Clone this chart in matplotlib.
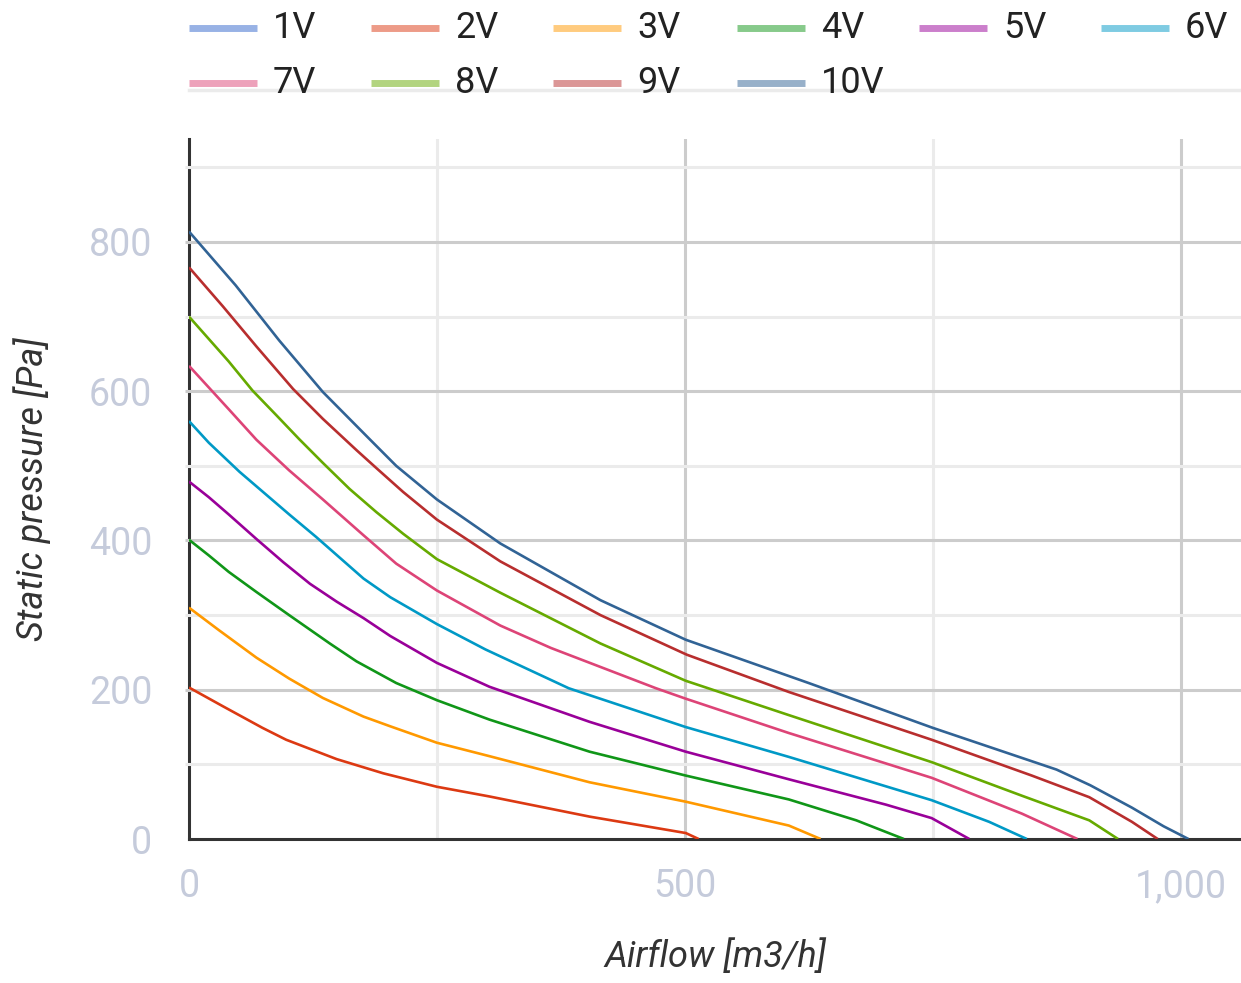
import numpy as np
import matplotlib
matplotlib.use('Agg')
import matplotlib.pyplot as plt
from matplotlib.lines import Line2D
from matplotlib.ticker import FuncFormatter

plt.rcParams['font.family'] = ['Roboto', 'DejaVu Sans']

# fan curves: airflow [m3/h] -> static pressure [Pa]
labels = ['1V', '2V', '3V', '4V', '5V', '6V', '7V', '8V', '9V', '10V']

flow_1v = []
pres_1v = []
flow_2v = [0, 34, 74, 98, 149, 196, 250, 303, 404, 501, 514]
pres_2v = [203, 178, 149, 133, 107, 88, 70, 57, 30, 8, 0]
flow_3v = [0, 30, 68, 101, 135, 176, 203, 250, 303, 404, 501, 605, 637]
pres_3v = [310, 280, 243, 215, 189, 164, 151, 129, 111, 76, 50, 18, 0]
flow_4v = [0, 20, 40, 68, 101, 142, 169, 209, 250, 303, 404, 501, 605, 673, 721]
pres_4v = [401, 380, 358, 331, 300, 262, 238, 209, 186, 160, 117, 85, 53, 25, 0]
flow_5v = [0, 20, 40, 68, 95, 122, 149, 176, 203, 250, 303, 404, 501, 605, 703, 749, 787]
pres_5v = [479, 458, 435, 402, 371, 342, 318, 296, 272, 236, 204, 157, 117, 80, 46, 28, 0]
flow_6v = [0, 20, 51, 101, 128, 176, 203, 250, 299, 383, 501, 605, 749, 807, 845]
pres_6v = [560, 531, 492, 435, 405, 349, 324, 288, 254, 202, 150, 110, 52, 23, 0]
flow_7v = [0, 20, 40, 68, 101, 135, 176, 209, 250, 314, 365, 471, 501, 605, 749, 840, 896]
pres_7v = [634, 605, 576, 535, 494, 455, 407, 369, 333, 286, 256, 202, 188, 142, 82, 34, 0]
flow_8v = [0, 20, 40, 64, 88, 111, 135, 162, 189, 216, 250, 314, 415, 501, 605, 749, 840, 908, 937]
pres_8v = [700, 670, 640, 601, 568, 536, 504, 469, 438, 409, 375, 330, 262, 212, 166, 103, 58, 25, 0]
flow_9v = [0, 34, 68, 105, 135, 169, 189, 216, 250, 314, 415, 502, 605, 749, 850, 908, 951, 977]
pres_9v = [766, 714, 660, 603, 563, 521, 497, 465, 428, 372, 300, 247, 197, 133, 85, 56, 23, 0]
flow_10v = [0, 47, 91, 135, 182, 209, 250, 314, 415, 501, 625, 750, 875, 909, 951, 983, 1008]
pres_10v = [814, 742, 668, 599, 536, 500, 455, 396, 320, 267, 209, 149, 93, 72, 42, 17, 0]

flows = [flow_1v, flow_2v, flow_3v, flow_4v, flow_5v, flow_6v, flow_7v, flow_8v, flow_9v, flow_10v]
pressures = [pres_1v, pres_2v, pres_3v, pres_4v, pres_5v, pres_6v, pres_7v, pres_8v, pres_9v, pres_10v]

colors = ['#3366cc', '#dc3912', '#ff9900', '#109618', '#990099',
          '#0099c6', '#dd4477', '#66aa00', '#b82e2e', '#316395']

W, H = 1241, 983
fig = plt.figure(figsize=(W / 100, H / 100), dpi=100)
ax = fig.add_axes([189 / W, 1 - 839 / H, 1 - 189 / W, (839 - 139) / H])

xmax, ymax = 1061, 938
ax.set_xlim(0, xmax)
ax.set_ylim(0, ymax)

# gridlines (drawn over the left axis line like the original)
for v in [100, 300, 500, 700, 900]:
    ax.plot([-4, xmax], [v, v], color='#ebebeb', lw=2.2, zorder=2.7, clip_on=False, solid_capstyle='butt')
for v in [200, 400, 600, 800]:
    ax.plot([-4, xmax], [v, v], color='#cccccc', lw=2.2, zorder=2.7, clip_on=False, solid_capstyle='butt')
for v in [250, 750]:
    ax.axvline(v, color='#ebebeb', lw=2.2, zorder=1)
for v in [500, 1000]:
    ax.axvline(v, color='#cccccc', lw=2.2, zorder=1)

for fx, py, c, lab in zip(flows, pressures, colors, labels):
    ax.plot(fx, py, color=c, lw=1.9, zorder=4, label=lab,
            solid_joinstyle='round', solid_capstyle='butt')

for s in ['top', 'right']:
    ax.spines[s].set_visible(False)
for s in ['left', 'bottom']:
    ax.spines[s].set_color('#333333')
    ax.spines[s].set_linewidth(2.2)
ax.spines['bottom'].set_zorder(3)

ax.set_xticks([0, 500, 1000])
ax.set_yticks([0, 200, 400, 600, 800])
ax.xaxis.set_major_formatter(FuncFormatter(lambda v, p: '{:,.0f}'.format(v)))
ax.tick_params(axis='both', length=0, labelsize=27, labelcolor='#c5cbdb')
ax.tick_params(axis='x', pad=21)
ax.tick_params(axis='y', pad=26.5)

fig.text(715 / W, 1 - 957 / H, 'Airflow [m3/h]', ha='center', va='center',
         fontsize=26, style='italic', color='#333333')
fig.text(32 / W, 1 - 489 / H, 'Static pressure [Pa]', ha='center', va='center',
         rotation=90, fontsize=26, style='italic', color='#333333')

# legend, two rows of six columns
col_x = [189, 371, 553, 737, 919, 1101]
row_y = [28, 83]
for i, (lab, c) in enumerate(zip(labels, colors)):
    x0 = col_x[i % 6]
    y0 = row_y[i // 6]
    fig.add_artist(Line2D([x0 / W, (x0 + 68) / W], [1 - y0 / H, 1 - y0 / H],
                          color=c, alpha=0.5, lw=5, solid_capstyle='butt'))
    fig.text((x0 + 84) / W, 1 - y0 / H, lab, ha='left', va='center',
             fontsize=26, color='#222222')

# thin rule that cuts through the second legend row
fig.add_artist(Line2D([189 / W, 1.0], [1 - 90 / H, 1 - 90 / H], color='#ebebeb', lw=2.5))

fig.savefig('out.png', dpi=100)
